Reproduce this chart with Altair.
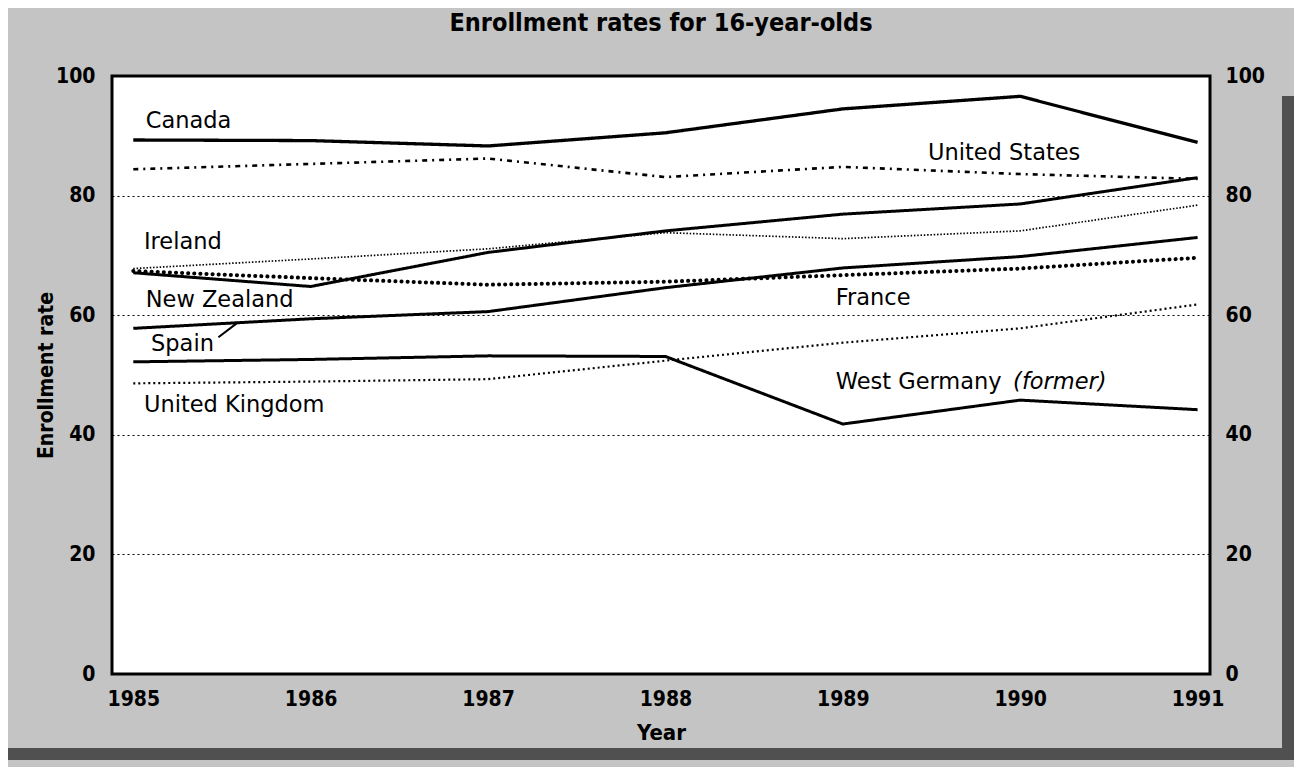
import altair as alt
import pandas as pd

# ---- data ----
years = [1985, 1986, 1987, 1988, 1989, 1990, 1991]
canada = [89.3, 89.2, 88.3, 90.5, 94.5, 96.6, 88.9]
united_states = [84.4, 85.3, 86.2, 83.1, 84.8, 83.6, 82.8]
new_zealand = [67.1, 64.8, 70.5, 74.1, 76.9, 78.6, 83.0]
ireland = [67.8, 69.4, 71.1, 73.8, 72.8, 74.1, 78.4]
france = [67.4, 66.2, 65.1, 65.6, 66.7, 67.8, 69.6]
spain = [57.8, 59.4, 60.6, 64.6, 67.9, 69.8, 73.0]
west_germany = [52.2, 52.6, 53.2, 53.1, 41.8, 45.8, 44.2]
united_kingdom = [48.6, 48.9, 49.3, 52.4, 55.4, 57.8, 61.8]
y_ticks = [0, 20, 40, 60, 80, 100]

series = {
    "Canada": canada,
    "United States": united_states,
    "New Zealand": new_zealand,
    "Ireland": ireland,
    "France": france,
    "Spain": spain,
    "West Germany": west_germany,
    "United Kingdom": united_kingdom,
}

# label annotations (year position, value position, text)
label_x = [1985.07, 1989.48, 1985.06, 1985.07, 1985.10, 1988.96, 1985.06, 1988.96]
label_y = [92.5, 87.2, 72.3, 62.5, 55.2, 62.8, 45.0, 48.9]
label_text = ["Canada", "United States", "Ireland", "New Zealand", "Spain",
              "France", "United Kingdom", "West Germany"]
italic_x = [1989.96]
italic_y = [48.9]
italic_text = ["(former)"]
pointer = {"x": [1985.48], "y": [56.3], "x2": [1985.59], "y2": [58.8]}

FONT = "DejaVu Sans"
COND = "DejaVu Sans Condensed"

styles = {
    "Canada": dict(strokeWidth=3.3, strokeDash=[1, 0], strokeCap="butt"),
    "United States": dict(strokeWidth=2.6, strokeDash=[5, 5, 2, 5], strokeCap="butt"),
    "New Zealand": dict(strokeWidth=3, strokeDash=[1, 0], strokeCap="butt"),
    "Ireland": dict(strokeWidth=1.7, strokeDash=[1.5, 1.8], strokeCap="butt"),
    "France": dict(strokeWidth=4, strokeDash=[0.1, 6], strokeCap="round"),
    "Spain": dict(strokeWidth=3, strokeDash=[1, 0], strokeCap="butt"),
    "West Germany": dict(strokeWidth=3, strokeDash=[1, 0], strokeCap="butt"),
    "United Kingdom": dict(strokeWidth=2.2, strokeDash=[2, 3], strokeCap="butt"),
}

x_scale = alt.Scale(domain=[1984.88, 1991.07], nice=False, zero=False)
y_scale = alt.Scale(domain=[0, 100], nice=False)

x_axis = alt.Axis(values=years, format="d", title="Year", domain=False, ticks=False,
                  grid=False, labelFont=COND, labelFontSize=21, labelFontWeight="bold",
                  labelColor="black", labelPadding=14, titleFont=COND, titleFontSize=22,
                  titleFontWeight="bold", titleColor="black", titleY=48,
                  titleBaseline="top")
y_axis = alt.Axis(values=y_ticks, title="Enrollment rate", domain=False, ticks=False,
                  grid=True, gridColor="black", gridDash=[2, 3], gridWidth=1,
                  labelFont=COND, labelFontSize=21, labelFontWeight="bold",
                  labelColor="black", labelPadding=17,
                  titleFont=COND, titleFontSize=21, titleFontWeight="bold",
                  titleColor="black", titleX=-56, titleY=299, titleAngle=270,
                  titleBaseline="bottom")

layers = []
for name, vals in series.items():
    df = pd.DataFrame({"year": years, "value": vals, "series": name})
    st = styles[name]
    layers.append(
        alt.Chart(df).mark_line(color="black", **st).encode(
            x=alt.X("year:Q", scale=x_scale, axis=x_axis),
            y=alt.Y("value:Q", scale=y_scale, axis=y_axis),
        )
    )

lab_df = pd.DataFrame({"year": label_x, "value": label_y, "text": label_text})
layers.append(
    alt.Chart(lab_df).mark_text(align="left", baseline="middle", font=FONT,
                                fontSize=22.5, color="black").encode(
        x=alt.X("year:Q", scale=x_scale, axis=x_axis),
        y=alt.Y("value:Q", scale=y_scale, axis=y_axis),
        text="text:N",
    )
)
it_df = pd.DataFrame({"year": italic_x, "value": italic_y, "text": italic_text})
layers.append(
    alt.Chart(it_df).mark_text(align="left", baseline="middle", font=FONT,
                               fontSize=22.5, fontStyle="italic", color="black").encode(
        x=alt.X("year:Q", scale=x_scale, axis=x_axis),
        y=alt.Y("value:Q", scale=y_scale, axis=y_axis),
        text="text:N",
    )
)
pt_df = pd.DataFrame(pointer)
layers.append(
    alt.Chart(pt_df).mark_rule(color="black", strokeWidth=2).encode(
        x=alt.X("x:Q", scale=x_scale, axis=x_axis),
        y=alt.Y("y:Q", scale=y_scale, axis=y_axis),
        x2="x2:Q", y2="y2:Q",
    )
)

main = alt.layer(*layers)

right_df = pd.DataFrame({"year": [years[0]] * len(y_ticks), "value": y_ticks})
right_axis = alt.Chart(right_df).mark_point(opacity=0).encode(
    x=alt.X("year:Q", scale=x_scale, axis=x_axis),
    y=alt.Y("value:Q", scale=y_scale,
            axis=alt.Axis(orient="right", values=y_ticks, title=None, domain=False,
                          ticks=False, grid=False, labelFont=COND, labelFontSize=21,
                          labelFontWeight="bold", labelColor="black", labelPadding=15)),
)

shadow_df = pd.DataFrame({"k": [0]})
shadow_bottom = alt.Chart(shadow_df).mark_rect(color="#505050").encode(
    x=alt.value(-104), x2=alt.value(1182), y=alt.value(672), y2=alt.value(684)
)
shadow_right = alt.Chart(shadow_df).mark_rect(color="#505050").encode(
    x=alt.value(1170), x2=alt.value(1182), y=alt.value(20), y2=alt.value(684)
)

chart = alt.layer(main, right_axis, shadow_bottom, shadow_right).resolve_axis(
    y="independent"
).properties(
    width=1098,
    height=598,
    autosize=alt.AutoSizeParams(type="none"),
    padding={"left": 104, "top": 68, "right": 84, "bottom": 93},
    background="#c4c4c4",
    title=alt.TitleParams("Enrollment rates for 16-year-olds", font=COND, fontSize=25,
                          fontWeight="bold", anchor="middle", offset=29, color="black"),
).configure_view(
    stroke="black", strokeWidth=3, fill="white"
)

chart.save("out.html", embed_options={"renderer": "svg", "actions": False})
